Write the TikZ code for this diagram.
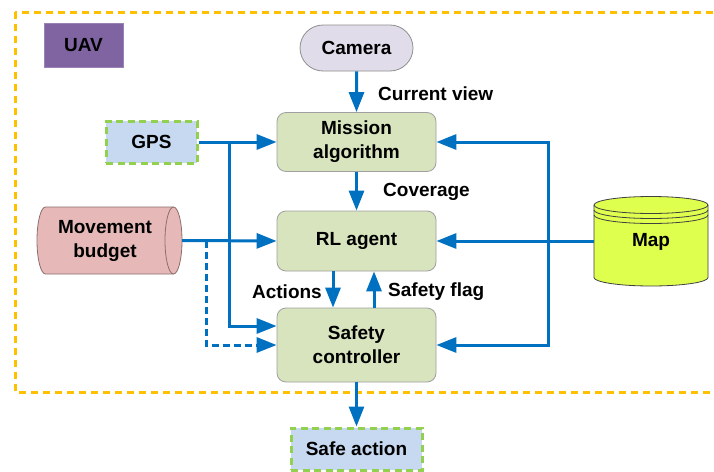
\documentclass[tikz,border=0pt]{standalone}
\usepackage{fontspec}
\setmainfont{Liberation Sans}
\usetikzlibrary{arrows.meta,shapes.misc,calc}

\definecolor{flowblue}{HTML}{0070C0}
\definecolor{frameorange}{HTML}{FFC000}
\definecolor{boxgreen}{HTML}{D7E4BD}
\definecolor{boxborder}{HTML}{A0A0A0}
\definecolor{uavpurple}{HTML}{8064A2}
\definecolor{camlilac}{HTML}{E1DCEA}
\definecolor{iogreen}{HTML}{92D050}
\definecolor{ioblue}{HTML}{C6D9F0}
\definecolor{budgetpink}{HTML}{E6B9B8}
\definecolor{budgetedge}{HTML}{8C6E6E}
\definecolor{mapyellow}{HTML}{DFFF4F}

\tikzset{
  x=1pt, y=-1pt,
  every node/.style={font=\fontsize{19}{24}\selectfont\bfseries, align=center, inner sep=0pt},
  block/.style={draw=boxborder, line width=0.8pt, fill=boxgreen, rounded corners=9pt,
                minimum width=159pt},
  iobox/.style={draw=iogreen, fill=ioblue, line width=3pt, dash pattern=on 7pt off 4.5pt},
  flow/.style={draw=flowblue, line width=3pt, -{Triangle[length=20pt,width=15pt]}},
  flowdash/.style={flow, dash pattern=on 7pt off 4pt},
  lbl/.style={font=\fontsize{19}{22}\selectfont\bfseries},
}

\begin{document}
\begin{tikzpicture}
\clip (0,0) rectangle (714,471);
\fill[white] (0,0) rectangle (714,471);

% UAV boundary
\draw[frameorange, line width=3pt, dash pattern=on 7pt off 5pt] (15,12) rectangle (740,392);
\node[fill=uavpurple, draw=uavpurple!80!white, line width=0.8pt,
      minimum width=79pt, minimum height=44pt] (uav) at (83.5,45) {UAV};

% main blocks
\node[rounded rectangle, draw=boxborder!90!black, line width=0.8pt, fill=camlilac,
      minimum width=113pt, minimum height=46pt] (cam) at (356.5,48) {Camera};
\node[block, minimum height=59pt] (mission) at (356.5,142) {Mission\\algorithm};
\node[block, minimum height=60pt] (rl) at (356.5,241) {RL agent};
\node[block, minimum height=74pt] (safety) at (356.5,345) {Safety\\controller};

% inputs and output
\node[iobox, minimum width=91pt, minimum height=42pt] (gps) at (151.5,142) {GPS};
\node[iobox, minimum width=131pt, minimum height=42pt] (safe) at (356.5,449) {Safe action};

% movement budget (horizontal cylinder)
\node[minimum width=145pt, minimum height=67pt] (budget) at (109.5,240.5) {};
\draw[budgetedge, line width=0.8pt, fill=budgetpink]
  (45.5,207) -- (173.5,207)
  arc[start angle=90, end angle=-90, x radius=8.5pt, y radius=33.5pt]
  -- (45.5,274)
  arc[start angle=270, end angle=90, x radius=8.5pt, y radius=33.5pt] -- cycle;
\draw[budgetedge, line width=0.8pt]
  (173.5,207) arc[start angle=90, end angle=270, x radius=8.5pt, y radius=33.5pt];
\node at (105,240.5) {Movement\\budget};

% map (vertical cylinder with stacked rims)
\node[minimum width=114pt, minimum height=90pt] (map) at (651,241) {};
\draw[black!75, line width=0.8pt, fill=mapyellow]
  (594,205) -- (594,277.5)
  arc[start angle=180, end angle=360, x radius=57pt, y radius=8.5pt]
  -- (708,205)
  arc[start angle=0, end angle=180, x radius=57pt, y radius=8.5pt] -- cycle;
\foreach \yy in {205,210,215}
  \draw[black!75, line width=0.8pt]
    (594,\yy) arc[start angle=180, end angle=360, x radius=57pt, y radius=8.5pt];
\node at (651,242) {Map};

% junction points
\coordinate (gpsj) at (229,142);
\coordinate (budj) at (206,241);
\coordinate (mapj) at (548,241);

% connectors
\draw[flow] (cam) -- (mission);
\draw[flow] (mission) -- (rl);
\draw[flow] ([xshift=-23.5pt]rl.south) -- ([xshift=-23.5pt]safety.north);
\draw[flow] ([xshift=17.5pt]safety.north) -- ([xshift=17.5pt]rl.south);
\draw[flow] (safety) -- (safe);

\draw[flow] (gps.east) -- (gps.east -| mission.west);
\draw[flow] (gpsj) |- ([yshift=19pt]safety.west);

\draw[flow] (budget.east) -- (rl.west);
\draw[flowdash] (budj) |- (safety.west);

\draw[flow] (map.west) -- (rl.east);
\draw[flow] (mapj) |- (mission.east);
\draw[flow] (mapj) |- (safety.east);

% connector labels
\node[lbl, anchor=west] (lcur) at (378,94) {Current view};
\node[lbl, anchor=west] (lcov) at (383,192) {Coverage};
\node[lbl, anchor=east] (lact) at (322,292) {Actions};
\node[lbl, anchor=west] (lflag) at (388,292) {Safety flag};
\end{tikzpicture}
\end{document}
